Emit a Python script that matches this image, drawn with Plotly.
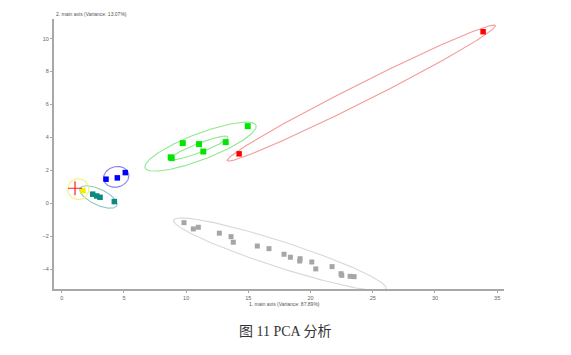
import numpy as np
import plotly.graph_objects as go

# ---- data ----
red_x = [33.87, 14.26]
red_y = [10.42, 3.00]

green_x = [14.95, 9.73, 11.04, 13.18, 11.38, 8.84, 8.76]
green_y = [4.68, 3.65, 3.59, 3.71, 3.14, 2.74, 2.79]

blue_x = [3.56, 4.47, 5.11]
blue_y = [1.46, 1.54, 1.86]

yellow_x = [1.71]
yellow_y = [0.77]

plus_x = [1.07]
plus_y = [0.91]

teal_x = [2.49, 2.81, 3.08, 4.23]
teal_y = [0.55, 0.44, 0.36, 0.10]

gray_x = [9.83, 10.58, 10.98, 12.67, 13.61, 13.79, 15.72, 16.66, 17.87, 18.38,
          19.16, 19.13, 20.10, 20.42, 21.73, 22.45, 22.51, 23.18, 23.50]
gray_y = [-1.18, -1.56, -1.46, -1.82, -2.03, -2.37, -2.60, -2.76, -3.10, -3.28,
          -3.37, -3.51, -3.57, -3.99, -3.85, -4.28, -4.38, -4.44, -4.46]

# ellipses: centre x, centre y, half major axis (dx, dy) in data units, minor/major ratio
ell_names = ["red", "green_outer", "green_inner", "teal", "blue", "yellow", "gray"]
ell_cx = [24.08, 11.16, 11.06, 2.95, 4.38, 1.33, 17.53]
ell_cy = [6.69, 3.44, 3.36, 0.38, 1.60, 0.85, -3.10]
ell_dx = [10.78, 4.46, 2.31, 1.475, 0.994, 0.844, 8.54]
ell_dy = [4.10, 1.29, 0.67, -0.53, 0.201, 0.0, -2.08]
ell_ratio = [0.06, 0.22, 0.15, 0.39, 0.80, 1.0, 0.116]

x_ticks = [0, 5, 10, 15, 20, 25, 30, 35]
y_ticks = [-4, -2, 0, 2, 4, 6, 8, 10]

x_title = "1. main axis (Variance: 87.89%)"
y_title = "2. main axis (Variance: 13.07%)"
caption = "图 11 PCA 分析"

# ---- styling ----
ell_colors = ["#f59a9a", "#8fe88f", "#8fe88f", "#8ec6c6", "#8080f0", "#f5f07a", "#d9d9d9"]
X_RANGE = [-0.62, 35.55]
Y_RANGE = [-5.21, 11.19]
PLOT_W = 450
PLOT_H = 270
K = (PLOT_H / (Y_RANGE[1] - Y_RANGE[0])) / (PLOT_W / (X_RANGE[1] - X_RANGE[0]))

fig = go.Figure()

t = np.linspace(0, 2 * np.pi, 241)
for i in range(len(ell_names)):
    ax, ay = ell_dx[i], ell_dy[i] * K
    bx, by = -ay * ell_ratio[i], ax * ell_ratio[i]
    ex = ell_cx[i] + ax * np.cos(t) + bx * np.sin(t)
    ey = ell_cy[i] + (ay * np.cos(t) + by * np.sin(t)) / K
    fig.add_trace(go.Scatter(x=ex, y=ey, mode="lines",
                             line=dict(color=ell_colors[i], width=1.1),
                             hoverinfo="skip", showlegend=False))

def pts(x, y, color, size=6, symbol="square"):
    fig.add_trace(go.Scatter(x=x, y=y, mode="markers",
                             marker=dict(symbol=symbol, size=size, color=color,
                                         line=dict(width=0)),
                             showlegend=False))

pts(gray_x, gray_y, "#a6a6a6", 5)
pts(teal_x, teal_y, "#0a8a80", 5.5)
pts(blue_x, blue_y, "#0000ff", 5.5)
pts(green_x, green_y, "#00e600", 6)
pts(red_x, red_y, "#ff0000", 5.5)
pts(yellow_x, yellow_y, "#f0f000", 5.5)
fig.add_trace(go.Scatter(x=plus_x, y=plus_y, mode="markers",
                         marker=dict(symbol="cross-thin", size=10,
                                     line=dict(color="#ff2020", width=1.2)),
                         showlegend=False))

axis_common = dict(showline=True, linecolor="#a8a8a8", linewidth=2,
                   ticks="outside", ticklen=2, tickcolor="#a8a8a8", tickwidth=1,
                   showgrid=False, zeroline=False,
                   tickfont=dict(family="Arial, Liberation Sans", size=5.5, color="#666"),
                   mirror=False)

# the page body has an 8 px margin, so the figure is offset by 8 px
fig.update_layout(
    width=563, height=347,
    margin=dict(l=46, r=67, t=11, b=66),
    paper_bgcolor="white", plot_bgcolor="white",
    xaxis=dict(range=X_RANGE, tickvals=x_ticks, **axis_common),
    yaxis=dict(range=Y_RANGE, tickvals=y_ticks, **axis_common),
    annotations=[
        dict(text=y_title, xref="paper", yref="paper", x=0, y=1,
             xanchor="left", yanchor="middle", yshift=5, showarrow=False,
             font=dict(family="Arial, Liberation Sans", size=5, color="#555")),
        dict(text=x_title, xref="x", yref="paper", x=14.9, y=0,
             xanchor="left", yanchor="middle", yshift=-15, showarrow=False,
             font=dict(family="Arial, Liberation Sans", size=5, color="#555")),
        dict(text=caption, xref="paper", yref="paper", x=(285 - 54) / PLOT_W, y=0,
             xanchor="center", yanchor="middle", yshift=-42, showarrow=False,
             font=dict(family="Liberation Serif, Noto Sans CJK SC", size=14, color="#333")),
    ],
)

fig.write_html("out.html")
